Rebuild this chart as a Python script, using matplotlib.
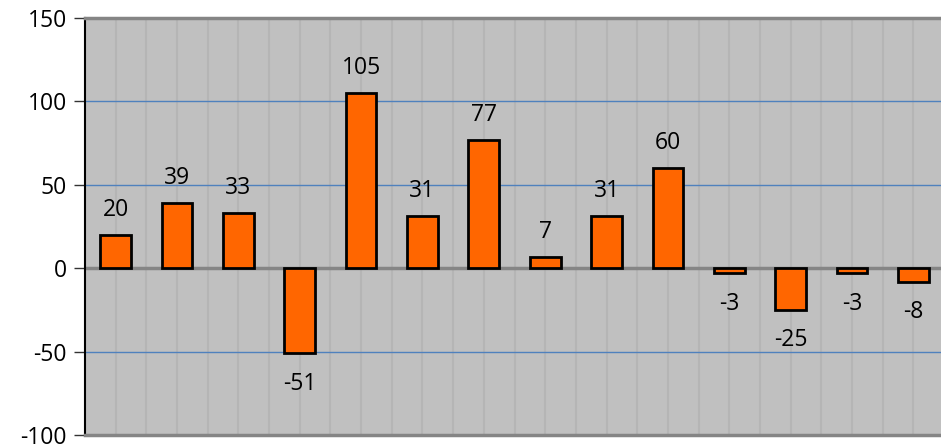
import matplotlib
matplotlib.use("Agg")
import matplotlib.pyplot as plt
import numpy as np

values = [20, 39, 33, -51, 105, 31, 77, 7, 31, 60, -3, -25, -3, -8]
yticks = [-100, -50, 0, 50, 100, 150]
blue_lines = [-50, 50, 100]

plt.rcParams['font.family'] = ['Open Sans', 'DejaVu Sans']

fig = plt.figure(figsize=(9.41, 4.48), dpi=100)
ax = fig.add_axes([85 / 941, 13 / 448, 859 / 941, 417 / 448])
ax.set_facecolor('#c0c0c0')

x = np.arange(len(values))
ax.set_xlim(-0.5, len(values) - 0.5)
ax.set_ylim(-100, 150)

# vertical grid every half category
for gx in np.arange(-0.5, len(values), 0.5)[1:]:
    ax.axvline(gx, color='#b5b5b5', lw=1.5, zorder=1)
for gy in blue_lines:
    ax.axhline(gy, color='#4f81bd', lw=1.0, zorder=1.5)

ax.bar(x, values, width=0.5, color='#ff6600', edgecolor='black', linewidth=2, zorder=3)
ax.axhline(0, color='#858585', lw=2.5, zorder=2)

for xi, v in zip(x, values):
    off = 18 if v >= 0 else -22
    ax.annotate(str(v), (xi, v), xytext=(0, off), textcoords='offset points',
                ha='center', va='center', fontsize=16.5, zorder=4)

ax.set_yticks(yticks)
ax.set_yticklabels([str(t) for t in yticks], fontsize=16.5)
ax.set_xticks([])
ax.tick_params(axis='y', length=8, width=1, color='#333333', pad=5)
for lab in ax.get_yticklabels():
    lab.set_va('center_baseline')

for side in ['top', 'bottom']:
    ax.spines[side].set_color('#858585')
    ax.spines[side].set_linewidth(2.5)
ax.spines['right'].set_visible(False)
ax.spines['left'].set_color('black')
ax.spines['left'].set_linewidth(1.5)

fig.savefig('out.png', dpi=100)
